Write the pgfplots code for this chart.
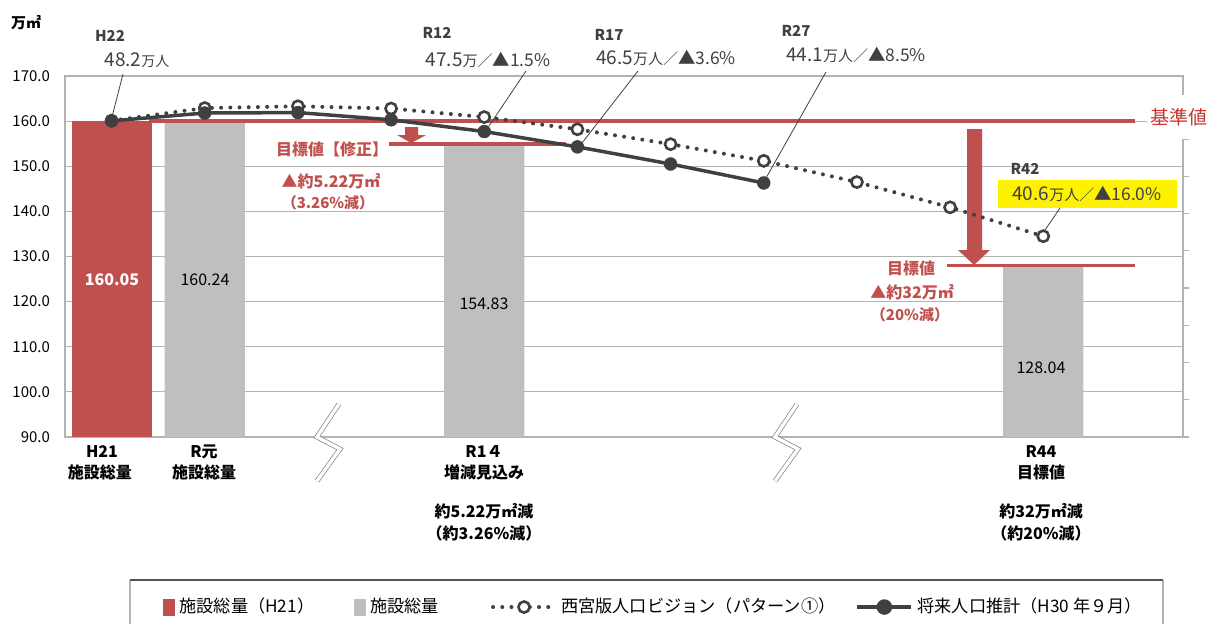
\documentclass[border=0pt]{standalone}
\usepackage{pgfplots}
\pgfplotsset{compat=1.18}
\usepackage{fontspec}
\setmainfont{Noto Sans CJK JP}
\definecolor{barred}{HTML}{C0504D}
\definecolor{bargray}{HTML}{BFBFBF}
\definecolor{ln}{HTML}{404040}
\definecolor{grd}{HTML}{B3B3B3}
\definecolor{kred}{HTML}{C8332F}
\newcommand\fs[1]{\fontsize{#1}{#1}\selectfont}

\begin{document}
\begin{tikzpicture}
% main axis: slots 0..11, one slot per period; 1 px of the reference = 0.5pt
\begin{axis}[
  at={(32.5pt,-218.5pt)}, anchor=south west, scale only axis,
  width=559pt, height=180.5pt,
  xmin=-0.5, xmax=11.5, ymin=90, ymax=170,
  xtick=\empty, ytick={90,100,110,120,130,140,150,160,170},
  ymajorgrids, grid style={grd, line width=0.6pt},
  axis line style={grd, line width=0.6pt},
  major tick length=0pt,
  /pgf/number format/assume math mode=true,
  yticklabel style={/pgf/number format/fixed, /pgf/number format/fixed zerofill,
    /pgf/number format/precision=1, font=\fs{7.5}, xshift=-4pt},
  legend style={at={(0.0877,-0.471)}, anchor=west, draw=none, fill=none,
    inner sep=0pt, font=\fs{8.6}, legend columns=4,
    /tikz/column 2/.style={column sep=18pt},
    /tikz/column 4/.style={column sep=24pt},
    /tikz/column 6/.style={column sep=8pt}},
]
\addplot[ybar, bar width=0.86, bar shift=0pt, fill=barred, draw=none,
  legend image code/.code={\fill[barred] (0pt,-4.25pt) rectangle (6pt,4.25pt);}]
  coordinates {(0,160.05)};
\addplot[ybar, bar width=0.86, bar shift=0pt, fill=bargray, draw=none,
  legend image code/.code={\fill[bargray] (0pt,-4.25pt) rectangle (6pt,4.25pt);}]
  coordinates {(1,160.24) (4,154.83) (10,128.04)};

% reference and target lines
\draw[barred, line width=1.75pt] (axis cs:0.4,160) -- (axis cs:10.985,160);
\draw[barred, line width=1.75pt] (axis cs:2.979,154.9) -- (axis cs:4.878,154.9);
\draw[barred, line width=1.75pt] (axis cs:8.967,128) -- (axis cs:10.985,128);
\fill[barred] (axis cs:3.150,158.70) -- (axis cs:3.290,158.70) -- (axis cs:3.290,156.93)
  -- (axis cs:3.376,156.93) -- (axis cs:3.215,155.15) -- (axis cs:3.064,156.93)
  -- (axis cs:3.150,156.93) -- cycle;
\fill[barred] (axis cs:9.182,158.25) -- (axis cs:9.343,158.25) -- (axis cs:9.343,131.44)
  -- (axis cs:9.429,131.44) -- (axis cs:9.257,128.12) -- (axis cs:9.085,131.44)
  -- (axis cs:9.182,131.44) -- cycle;

\addplot[ln, line width=2pt, line cap=round, dash pattern=on 0pt off 4.6pt,
  mark=*, mark size=2.8pt, mark options={solid, fill=white, draw=ln, line width=1.3pt},
  legend image code/.code={
    \draw[ln, line width=2pt, line cap=round, dash pattern=on 0pt off 4.6pt] (0pt,0pt) -- (31pt,0pt);
    \draw[ln, solid, fill=white, line width=1.3pt] (15.5pt,0pt) circle (2.8pt);}]
  coordinates {(0,160.1) (1,162.9) (2,163.3) (3,162.8) (4,160.9) (5,158.2)
    (6,154.9) (7,151.2) (8,146.5) (9,140.9) (10,134.5)};
\addplot[ln, line width=1.75pt, mark=*, mark size=3.2pt,
  mark options={solid, fill=ln, draw=ln, line width=0.3pt},
  legend image code/.code={
    \draw[ln, line width=2pt] (0pt,0pt) -- (27pt,0pt);
    \fill[ln] (13.5pt,0pt) circle (3pt);}]
  coordinates {(0,160.05) (1,161.8) (2,161.9) (3,160.3) (4,157.7) (5,154.3)
    (6,150.5) (7,146.3)};
\legend{施設総量（H21）,施設総量,西宮版人口ビジョン（パターン①）,将来人口推計（H30 年９月）}
\end{axis}

% secondary (population) axis, ticks only
\begin{axis}[
  at={(32.5pt,-218.5pt)}, anchor=south west, scale only axis,
  width=559pt, height=180.5pt,
  xmin=0, xmax=1, ymin=0, ymax=9.6913,
  hide x axis, axis y line*=right,
  ytick={0,1,2,3,4,5,6,7,8}, yticklabels={},
  tick align=outside, major tick length=3pt,
  y axis line style={grd, line width=0.6pt}, tick style={grd, line width=0.6pt},
]
\end{axis}

\begin{scope}[x=0.5pt,y=-0.5pt]
% axis breaks
\foreach \dx in {0,458}{
  \draw[gray, line width=2.4pt] (339+\dx,404) -- (317+\dx,437) -- (340+\dx,449) -- (317+\dx,481);
  \draw[white, line width=1.7pt] (339+\dx,404) -- (317+\dx,437) -- (340+\dx,449) -- (317+\dx,481);
}

% unit
\node[font=\bfseries\fs{7.5}] at (26,23) {万㎡};

% callouts
\node[font=\bfseries\fs{7.5}, text=ln] at (110,36) {H22};
\node[text=ln] at (137,60) {{\fs{9.5}48.2}{\fs{7}万人}};
\draw[ln, line width=0.4pt] (123,74) -- (112,117);

\node[font=\bfseries\fs{7.5}, text=ln] at (437,33) {R12};
\node[text=ln] at (488,60) {{\fs{9.5}47.5}{\fs{7.5}万／}{\fs{8.7}▲1.5\%}};
\draw[ln, line width=0.4pt] (526,71) -- (489,126);

\node[font=\bfseries\fs{7.5}, text=ln] at (609,35) {R17};
\node[text=ln] at (666,58) {{\fs{9.5}46.5}{\fs{7.5}万人／}{\fs{8.7}▲3.6\%}};
\draw[ln, line width=0.4pt] (638,71) -- (582,143);

\node[font=\bfseries\fs{7.5}, text=ln] at (796,31) {R27};
\node[text=ln] at (856,55) {{\fs{9.5}44.1}{\fs{7.5}万人／}{\fs{8.7}▲8.5\%}};
\draw[ln, line width=0.4pt] (826,72) -- (766,178);

\node[font=\bfseries\fs{7.5}, text=ln] at (1025,169) {R42};
\node[fill=yellow, text=ln, minimum width=89.5pt, minimum height=14pt, inner sep=0pt]
  at (1087,194) {{\fs{9.5}40.6}{\fs{7.5}万人／}{\fs{8.7}▲16.0\%}};
\draw[ln, line width=0.4pt] (1060,208) -- (1045,230);

% target texts
\node[font=\bfseries\fs{8}, text=barred] at (332,149) {目標値【修正】};
\node[font=\bfseries\fs{8}, text=barred] at (331,181) {▲約5.22万㎡};
\node[font=\bfseries\fs{7.5}, text=barred] at (328,203) {（3.26\%減）};
\node[font=\bfseries\fs{8}, text=barred] at (911,268) {目標値};
\node[font=\bfseries\fs{8}, text=barred] at (912,292) {▲約32万㎡};
\node[font=\bfseries\fs{7.5}, text=barred] at (910,315) {（20\%減）};
\node[fill=white, text=kred, font=\fs{9.5}, minimum height=22pt, inner xsep=2pt] at (1179,117) {基準値};

% bar values
\node[font=\bfseries\fs{8}, text=white] at (112,280) {160.05};
\node[font=\fs{8}] at (205,280) {160.24};
\node[font=\fs{8}] at (484,304) {154.83};
\node[font=\fs{8}] at (1041,368) {128.04};

% category labels
\begin{scope}[every node/.style={font=\bfseries\fs{8}}]
\node at (102,452) {H21};   \node at (100,472) {施設総量};
\node at (204,452) {R元};   \node at (204,472) {施設総量};
\node at (484,452) {R1４};  \node at (484,472) {増減見込み};
\node at (484,511) {約5.22万㎡減}; \node at (484,533) {（約3.26\%減）};
\node at (1041,452) {R44};  \node at (1041,472) {目標値};
\node at (1041,511) {約32万㎡減};  \node at (1041,533) {（約20\%減）};
\end{scope}

% legend frame
\draw[grd, line width=0.6pt] (130,640) -- (130,580) (1163,580) -- (1163,640);
\draw[ln!90, line width=1pt] (130,580) -- (1163,580);
\end{scope}

\pgfresetboundingbox
\path[use as bounding box] (0pt,0pt) rectangle (608.5pt,-311.5pt);
\end{tikzpicture}
\end{document}
